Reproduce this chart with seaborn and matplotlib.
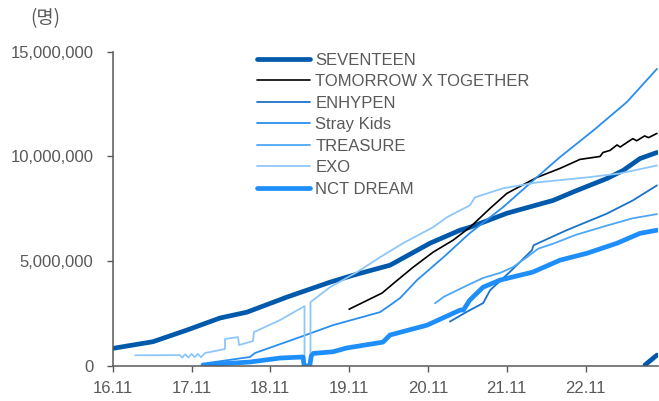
import numpy as np
import pandas as pd
import matplotlib
matplotlib.use("Agg")
import matplotlib.pyplot as plt
from matplotlib.ticker import FuncFormatter
import seaborn as sns

# ---------------- data (x: years after Nov 2016, y: millions) ----------------
tick_labels = ["16.11", "17.11", "18.11", "19.11", "20.11", "21.11", "22.11"]

seventeen_t = [0.0, 0.511, 0.939, 1.362, 1.704, 2.212, 2.758, 3.049, 3.519, 4.027,
               4.407, 4.534, 5.003, 5.587, 5.892, 6.273, 6.476, 6.692, 6.907]
seventeen_v = [0.84, 1.16, 1.71, 2.29, 2.57, 3.29, 4.00, 4.33, 4.81, 5.86,
               6.48, 6.62, 7.29, 7.90, 8.38, 8.95, 9.33, 9.90, 10.19]
seventeen_tail_t = [6.755, 6.907]
seventeen_tail_v = [0.05, 0.52]

txt_t = [3.000, 3.418, 3.582, 3.811, 4.065, 4.318, 4.534, 4.788, 5.003, 5.384,
         5.676, 5.930, 6.184, 6.222, 6.311, 6.40, 6.44, 6.527, 6.60, 6.65, 6.75, 6.80, 6.907]
txt_v = [2.71, 3.48, 4.00, 4.71, 5.43, 6.00, 6.62, 7.52, 8.24, 9.00,
         9.43, 9.86, 10.00, 10.19, 10.29, 10.55, 10.45, 10.67, 10.85, 10.75, 10.98, 10.90, 11.10]

enhypen_t = [4.28, 4.50, 4.70, 4.79, 5.04, 5.30, 5.32, 5.34, 5.76, 6.27, 6.60, 6.907]
enhypen_v = [2.12, 2.60, 3.00, 3.62, 4.49, 5.45, 5.52, 5.76, 6.48, 7.27, 7.90, 8.62]

straykids_t = [1.199, 1.742, 1.806, 2.377, 2.796, 3.392, 3.519, 3.646, 3.862, 4.20,
               4.534, 4.957, 5.338, 5.676, 6.099, 6.523, 6.907]
straykids_v = [0.14, 0.43, 0.62, 1.38, 1.95, 2.57, 2.90, 3.24, 4.10, 5.20,
               6.35, 7.59, 8.86, 9.97, 11.24, 12.59, 14.18]

treasure_t = [4.09, 4.20, 4.50, 4.70, 4.92, 5.08, 5.26, 5.40, 5.60, 5.87, 6.27, 6.60, 6.907]
treasure_v = [2.99, 3.30, 3.85, 4.20, 4.45, 4.72, 5.20, 5.60, 5.85, 6.25, 6.70, 7.05, 7.25]

exo_t = [0.284, 0.855, 0.88, 0.92, 0.96, 1.00, 1.04, 1.08, 1.12, 1.171, 1.425, 1.425,
         1.59, 1.603, 1.78, 1.793, 2.123, 2.434, 2.434, 2.51, 2.51, 2.758, 3.10, 3.392,
         3.684, 4.065, 4.242, 4.534, 4.598, 4.953, 5.384, 6.019, 6.438, 6.907]
exo_v = [0.51, 0.52, 0.40, 0.56, 0.40, 0.58, 0.42, 0.58, 0.42, 0.62, 0.81, 1.29,
         1.38, 1.00, 1.19, 1.62, 2.19, 2.86, 0.0, 0.0, 3.05, 3.76, 4.48, 5.19,
         5.86, 6.62, 7.10, 7.67, 8.05, 8.48, 8.76, 9.00, 9.19, 9.57]

nct_t = [1.146, 1.742, 2.123, 2.415, 2.43, 2.50, 2.52, 2.546, 2.796, 2.97, 3.43, 3.52,
         3.99, 4.41, 4.45, 4.53, 4.70, 4.915, 5.33, 5.676, 6.019, 6.40, 6.69, 6.907]
nct_v = [0.05, 0.19, 0.38, 0.43, 0.0, 0.0, 0.48, 0.60, 0.68, 0.86, 1.14, 1.48,
         1.95, 2.67, 2.67, 3.14, 3.76, 4.10, 4.48, 5.05, 5.38, 5.86, 6.33, 6.48]

series = [
    ("SEVENTEEN", seventeen_t, seventeen_v),
    ("TOMORROW X TOGETHER", txt_t, txt_v),
    ("ENHYPEN", enhypen_t, enhypen_v),
    ("Stray Kids", straykids_t, straykids_v),
    ("TREASURE", treasure_t, treasure_v),
    ("EXO", exo_t, exo_v),
    ("NCT DREAM", nct_t, nct_v),
]
colors = {
    "SEVENTEEN": "#0059AA",
    "TOMORROW X TOGETHER": "#000000",
    "ENHYPEN": "#1B72C9",
    "Stray Kids": "#2A8EEE",
    "TREASURE": "#4DA7F4",
    "EXO": "#8DC7FA",
    "NCT DREAM": "#1E8FFA",
}
widths = {
    "SEVENTEEN": 3.4,
    "TOMORROW X TOGETHER": 1.2,
    "ENHYPEN": 1.3,
    "Stray Kids": 1.3,
    "TREASURE": 1.3,
    "EXO": 1.3,
    "NCT DREAM": 3.4,
}

# ---------------- plotting ----------------
sns.set_style("ticks")
plt.rcParams["font.family"] = ["Liberation Sans", "Noto Sans CJK KR", "DejaVu Sans"]

W, H = 659, 401
fig = plt.figure(figsize=(W / 100, H / 100), dpi=100)
x_right = 658
px_per_year = 78.8
ax = fig.add_axes([112.7 / W, (H - 366) / H, (x_right - 112.7) / W, (366 - 51.7) / H])

gray = "#595959"
for name, t, v in series:
    df = pd.DataFrame({"t": t, "v": np.array(v) * 1e6})
    sns.lineplot(data=df, x="t", y="v", ax=ax, color=colors[name], linewidth=widths[name],
                 estimator=None, sort=False, label=name, solid_capstyle="round")

tail = pd.DataFrame({"t": seventeen_tail_t, "v": np.array(seventeen_tail_v) * 1e6})
sns.lineplot(data=tail, x="t", y="v", ax=ax, color=colors["SEVENTEEN"],
             linewidth=widths["SEVENTEEN"], estimator=None, sort=False, legend=False,
             solid_capstyle="round")

ax.set_xlim(0, (x_right - 112.7) / px_per_year)
ax.set_ylim(0, 15e6)
ax.set_xticks(range(len(tick_labels)))
ax.set_xticklabels(tick_labels)
ax.set_yticks([0, 5e6, 10e6, 15e6])
ax.yaxis.set_major_formatter(FuncFormatter(lambda val, pos: f"{int(val):,}"))
ax.set_xlabel("")
ax.set_ylabel("")

for s in ["top", "right"]:
    ax.spines[s].set_visible(False)
for s in ["left", "bottom"]:
    ax.spines[s].set_color(gray)
    ax.spines[s].set_linewidth(1.1)
ax.tick_params(axis="both", direction="out", length=4, width=1.0, color=gray,
               labelcolor=gray, labelsize=12)
ax.tick_params(axis="y", pad=10)
ax.tick_params(axis="x", pad=7)

leg = ax.legend(loc="upper left", bbox_to_anchor=((257 - 112.7) / (x_right - 112.7), 0.997),
                frameon=False, fontsize=12, handlelength=3.2, handletextpad=0.3,
                labelspacing=0.39, borderpad=0, borderaxespad=0)
for txt in leg.get_texts():
    txt.set_color(gray)

fig.text(45 / W, 1 - 19 / H, "(명)", ha="center", va="center", fontsize=13.5, color=gray,
         family=["Noto Sans CJK KR", "DejaVu Sans"])

fig.savefig("out.png", dpi=100)
